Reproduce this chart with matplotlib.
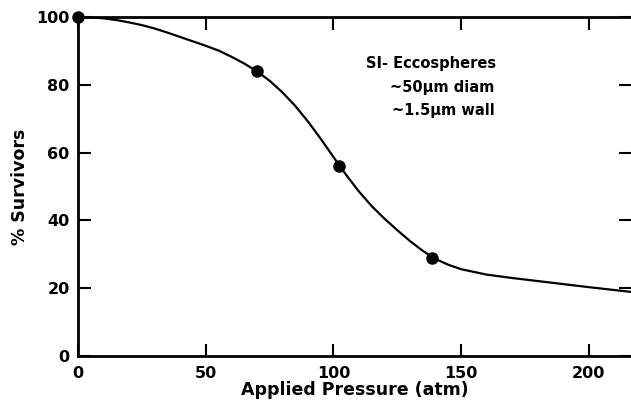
import matplotlib
matplotlib.use("Agg")
import matplotlib.pyplot as plt

# measured survival points
pressure = [0, 70, 102, 138.5]
survivors = [100, 84, 56, 29]

# hand-drawn fitted curve
curve_x = [0, 5, 10, 15, 20, 25, 30, 35, 40, 45, 50, 55, 60, 65, 70, 75, 80,
           85, 90, 95, 100, 105, 110, 115, 120, 125, 130, 135, 140, 145, 150,
           160, 170, 180, 190, 200, 216.5]
curve_y = [100, 99.9, 99.6, 99.1, 98.4, 97.6, 96.6, 95.4, 94.1, 92.8, 91.5,
           90.1, 88.3, 86.3, 84.0, 81.2, 77.8, 73.8, 69.2, 64.1, 58.7, 53.4,
           48.5, 44.2, 40.5, 37.1, 33.9, 31.0, 28.6, 26.9, 25.6, 24.0, 23.0,
           22.1, 21.2, 20.3, 18.9]

x_ticks = [0, 50, 100, 150, 200]
y_ticks = [0, 20, 40, 60, 80, 100]

plt.rcParams["font.family"] = ["DejaVu Sans"]
plt.rcParams["font.weight"] = "bold"

fig = plt.figure(figsize=(6.31, 4.08), dpi=100)
ax = fig.add_axes([0.1236, 0.1275, 0.8764, 0.8309])

ax.plot(curve_x, curve_y, color="black", lw=1.6, clip_on=False,
        solid_joinstyle="round")
ax.plot(pressure, survivors, "o", color="black", ms=8, clip_on=False, zorder=5)

ax.set_xlim(0, 216.5)
ax.set_ylim(0, 100)
ax.set_xticks(x_ticks)
ax.set_yticks(y_ticks)

for side in ["left", "bottom", "top"]:
    ax.spines[side].set_linewidth(2.0)
ax.spines["right"].set_visible(False)

ax.tick_params(axis="both", direction="in", length=9, width=1.5,
               labelsize=11.5, top=True, right=True, pad=6)
ax.tick_params(axis="x", pad=7)
for lbl in ax.get_xticklabels() + ax.get_yticklabels():
    lbl.set_fontweight("bold")

ax.set_xlabel("Applied Pressure (atm)", fontsize=12.5, fontweight="bold", labelpad=0)
ax.set_ylabel("% Survivors", fontsize=12.5, fontweight="bold", labelpad=5)

ax.text(112.7, 85, "SI- Eccospheres", fontsize=10.5, fontweight="bold")
ax.text(122, 78, "~50\u03bcm diam", fontsize=10.5, fontweight="bold")
ax.text(123, 71, "~1.5\u03bcm wall", fontsize=10.5, fontweight="bold")

fig.savefig("out.png", dpi=100)
